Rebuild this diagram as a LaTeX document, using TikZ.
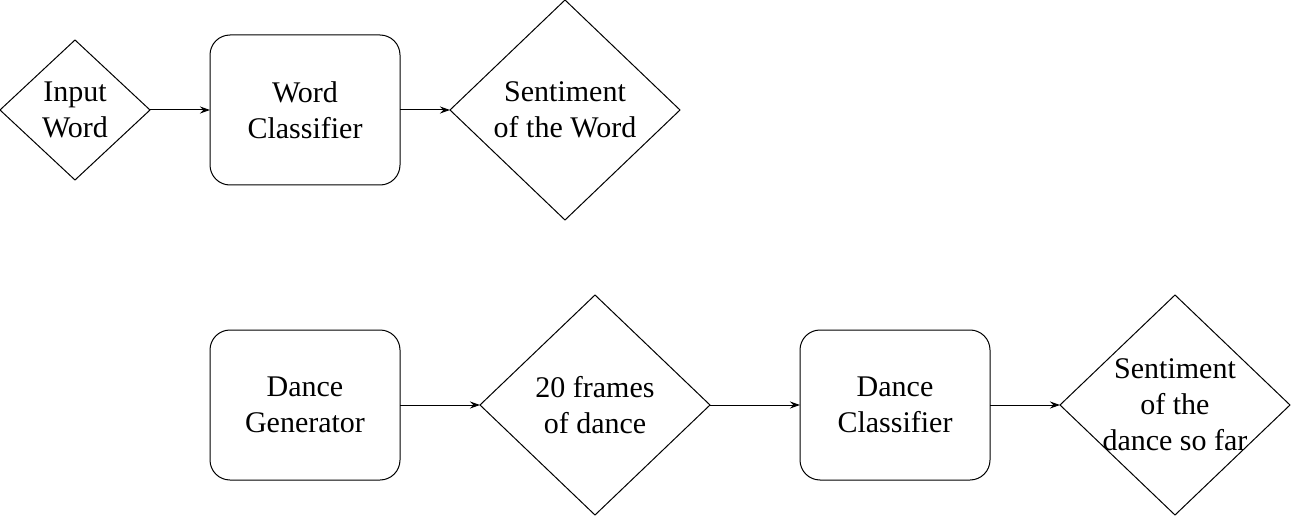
\documentclass[tikz,border=0pt]{standalone}
\usepackage{fontspec}
\setmainfont{Liberation Serif}
\usetikzlibrary{shapes.geometric,arrows.meta,positioning}
\begin{document}
\begin{tikzpicture}[x=1pt, y=-1pt, line width=1pt, every node/.style={font=\fontsize{30}{36}\selectfont},
	box/.style={draw, rounded corners=20pt, minimum width=190pt, minimum height=150pt, outer sep=0pt, align=center},
	decision/.style={draw, diamond, minimum width=230pt, minimum height=220pt, inner sep=0pt, outer sep=0pt},
	flow/.style={-{Stealth[length=10pt, width=7pt]}}]
			\useasboundingbox (0,0) rectangle (1291,516);
			% word row
			\node[decision, minimum width=150pt, minimum height=140pt] (word) at (75,110) {};
			\node[align=center] (wordtxt) at (word) {Input\\Word};
			\node[box, right=60pt of word] (wcls) {Word\\Classifier};
			\node[decision, right=50pt of wcls] (wsent) {};
			\node[align=center] (wsenttxt) at (wsent) {Sentiment\\of the Word};
			
			\draw[flow] (word) -- (wcls);
			\draw[flow] (wcls) -- (wsent);
			
			% dance row
			\node[box] (dgen) at (305,405) {Dance\\Generator};
			\node[decision, right=80pt of dgen] (frames) {};
			\node[align=center] (framestxt) at (frames) {20 frames\\of dance};
			\node[box, right=90pt of frames] (dcls) {Dance\\Classifier};
			\node[decision, right=70pt of dcls] (dsent) {};
			\node[align=center] (dsenttxt) at (dsent) {Sentiment\\of the\\dance so far};
			
			\draw[flow] (dgen) -- (frames);
			\draw[flow] (frames) -- (dcls);
			\draw[flow] (dcls) -- (dsent);
		\end{tikzpicture}
\end{document}
